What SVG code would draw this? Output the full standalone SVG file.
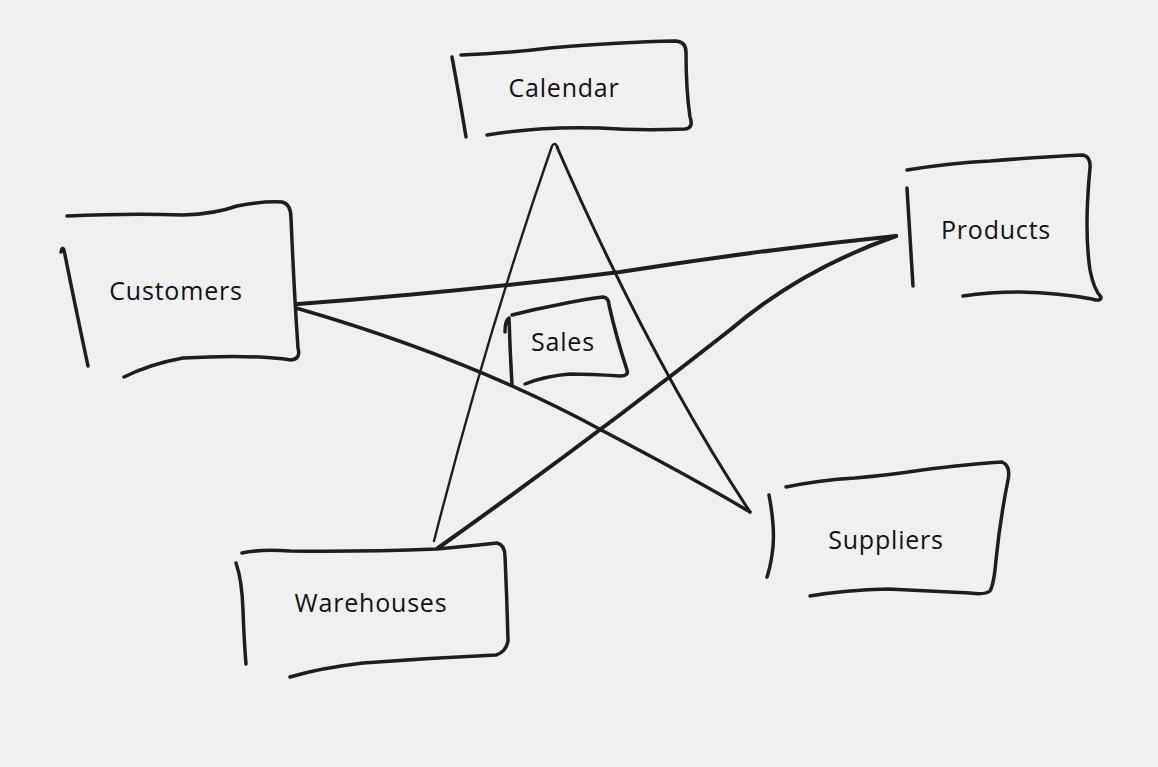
<svg xmlns="http://www.w3.org/2000/svg" width="1158" height="767" viewBox="0 0 1158 767">
<style>
.bg{fill:#f0f0f0}
.s{fill:none;stroke:#1e1e1e;stroke-linecap:round;stroke-linejoin:round}
.b{stroke-width:3.5}
.t{font-family:"Open Sans","Noto Sans","DejaVu Sans",sans-serif;font-size:25px;fill:#111;text-anchor:middle;letter-spacing:0.8px}
</style>
<rect class="bg" x="0" y="0" width="1158" height="767"/>
<g id="connectors" class="s">
<path d="M434,541 Q488,330 552,146 Q555,141 558,148" stroke-width="2.4"/>
<path d="M557,147 Q650,360 750,512" stroke-width="3"/>
<path d="M750,512 Q700,482 605,432 Q470,358 296,308" stroke-width="3.5"/>
<path d="M298,304 Q460,292 620,272 Q760,250 896,236" stroke-width="4"/>
<path d="M896,236 Q800,270 730,330 Q590,440 438,548" stroke-width="4"/>
</g>
<g id="calendar">
<path class="s b" d="M461,55 Q510,53 550,48 Q620,42 676,41 Q686,42 686,52 Q686,90 690,117 Q694,128 685,129 Q640,131 600,128 Q540,126 487,135"/>
<path class="s b" d="M452,57 Q460,100 466,137"/>
<text class="t" x="564" y="97">Calendar</text>
</g>
<g id="customers">
<path class="s b" d="M67,216 Q130,213 183,215 Q215,214 237,206 Q262,201 282,202 Q291,204 291,218 Q294,290 298,348 Q301,359 291,360 Q250,354 183,358 Q150,364 124,377"/>
<path class="s b" d="M61,252 Q62,246 64,250 Q75,305 88,366"/>
<text class="t" x="176" y="300">Customers</text>
</g>
<g id="products">
<path class="s b" d="M907,170 Q950,163 990,161 Q1040,157 1083,155 Q1091,157 1090,168 Q1084,230 1090,270 Q1094,290 1101,297 Q1101,302 1092,299 Q1060,293 1020,292 Q990,292 963,296"/>
<path class="s b" d="M907,188 Q910,240 913,286"/>
<text class="t" x="996" y="239">Products</text>
</g>
<g id="sales">
<path class="s b" d="M512,315 Q535,309 557,305 Q585,299 603,297 Q609,298 609,305 Q617,340 627,370 Q629,376 620,376 Q590,374 570,374 Q545,376 525,384"/>
<path class="s b" d="M505,332 Q505,320 509,318 Q510,350 512,385"/>
<text class="t" x="563" y="351">Sales</text>
</g>
<g id="warehouses">
<path class="s b" d="M242,553 Q260,549 290,551 Q360,552 437,549 Q470,546 497,543 Q505,545 505,556 Q507,600 508,641 Q506,652 496,655 Q430,658 363,663 Q320,668 290,677"/>
<path class="s b" d="M236,563 Q242,580 243,610 Q244,640 246,664"/>
<text class="t" x="371" y="612">Warehouses</text>
</g>
<g id="suppliers">
<path class="s b" d="M786,487 Q820,480 855,478 Q890,475 922,470 Q970,464 1002,462 Q1011,466 1008,480 Q1000,520 996,560 Q994,584 990,591 Q985,595 970,593 Q930,591 888,589 Q845,590 810,596"/>
<path class="s b" d="M769,495 Q776,532 772,555 Q770,568 767,577"/>
<text class="t" x="886" y="549">Suppliers</text>
</g>
</svg>
